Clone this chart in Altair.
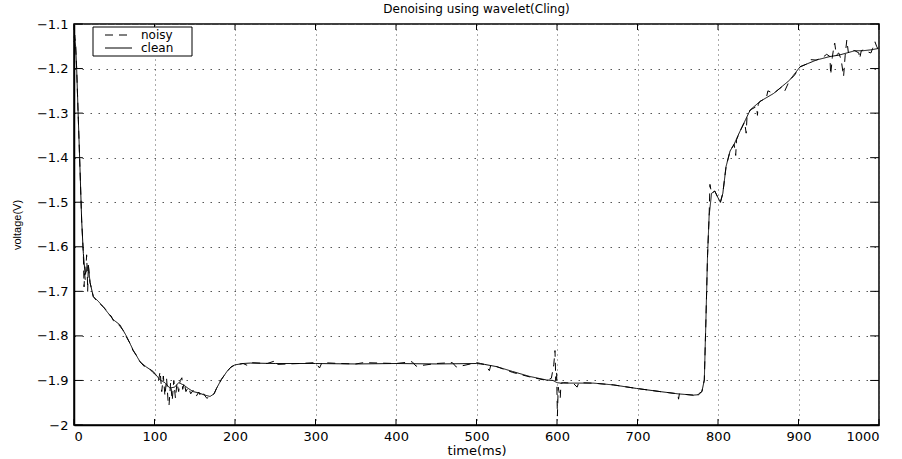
import altair as alt
import pandas as pd

title_text = "Denoising using wavelet(Cling)"
x_title = "time(ms)"
y_title = "voltage(V)"
series_names = ["noisy", "clean"]

x_ticks = [0, 100, 200, 300, 400, 500, 600, 700, 800, 900, 1000]
y_ticks = [-2.0, -1.9, -1.8, -1.7, -1.6, -1.5, -1.4, -1.3, -1.2, -1.1]

clean_t = [0, 1, 2, 3.3, 5.4, 7.5, 9.5, 11.6, 13.7, 15.5, 17.8, 19.9, 24, 30, 36, 42, 49, 57,
           65, 73, 82, 90, 98.5, 107, 113, 119, 125, 130, 136, 142, 148, 155, 161, 169, 174,
           177, 183, 190, 195, 200, 210, 219, 250, 300, 350, 400, 450, 500, 510, 525, 545,
           566, 587, 595, 600, 605, 620, 645, 670, 699, 728, 750, 769, 776, 780, 783, 785,
           787, 789, 792, 796, 800, 803, 806, 810, 815, 820, 827, 840, 852, 869, 889, 902,
           922, 939, 950, 960, 970, 980, 990, 999]
clean_v = [-1.140, -1.135, -1.150, -1.200, -1.315, -1.428, -1.540, -1.615, -1.660, -1.655,
           -1.641, -1.680, -1.712, -1.722, -1.734, -1.748, -1.764, -1.775, -1.800, -1.830,
           -1.858, -1.870, -1.880, -1.899, -1.905, -1.917, -1.915, -1.905, -1.910, -1.918,
           -1.925, -1.928, -1.932, -1.936, -1.930, -1.918, -1.898, -1.880, -1.870, -1.865,
           -1.862, -1.861, -1.862, -1.862, -1.863, -1.862, -1.863, -1.862, -1.864, -1.869,
           -1.880, -1.891, -1.899, -1.900, -1.905, -1.906, -1.906, -1.906, -1.910, -1.918,
           -1.925, -1.930, -1.933, -1.932, -1.925, -1.899, -1.764, -1.620, -1.530, -1.480,
           -1.475, -1.490, -1.500, -1.480, -1.420, -1.385, -1.370, -1.342, -1.293, -1.274,
           -1.256, -1.226, -1.196, -1.181, -1.173, -1.170, -1.165, -1.160, -1.160, -1.158,
           -1.155]

noisy_t = [0, 1, 2, 3.3, 5.4, 7.5, 9.5, 11.6, 12.5, 13.2, 14, 15.7, 16.5, 17, 17.8, 19.9,
           24, 30, 36, 40, 42, 46, 49, 53, 57, 62, 65, 70, 73, 78, 82, 88, 93, 98, 102, 105,
           107, 109, 111, 113, 115, 117, 118, 120, 122, 124, 126, 128, 130, 132, 134, 135,
           137, 139, 142, 145, 148, 152, 155, 158, 161, 165, 169, 174, 177, 183, 190, 195,
           200, 210, 215, 219, 240, 250, 252, 280, 300, 305, 308, 330, 350, 360, 400, 420,
           425, 450, 470, 475, 500, 505, 510, 516, 518, 525, 545, 566, 587, 593, 596, 597.5,
           598.5, 599.5, 600.5, 601.5, 604, 605, 608, 620, 625, 627, 645, 670, 699, 728, 750,
           751, 752, 769, 772, 776, 780, 783, 785, 787, 789, 790, 792, 796, 800, 803, 806,
           810, 815, 820, 822, 823, 827, 833, 835, 836, 840, 848, 849, 850, 852, 860, 862,
           869, 880, 883, 889, 895, 902, 910, 915, 922, 930, 935, 939, 940, 942, 944, 945,
           947, 950, 953, 956, 958, 960, 962, 964, 970, 975, 976, 978, 981, 985, 990, 992,
           995, 997, 999]
noisy_v = [-1.130, -1.125, -1.145, -1.200, -1.315, -1.428, -1.540, -1.615, -1.690, -1.660,
           -1.675, -1.618, -1.660, -1.700, -1.640, -1.680, -1.712, -1.725, -1.734, -1.742,
           -1.750, -1.755, -1.766, -1.770, -1.778, -1.790, -1.802, -1.818, -1.832, -1.845,
           -1.858, -1.870, -1.872, -1.882, -1.888, -1.900, -1.880, -1.925, -1.890, -1.935,
           -1.895, -1.950, -1.957, -1.905, -1.945, -1.900, -1.940, -1.905, -1.925, -1.900,
           -1.894, -1.920, -1.905, -1.925, -1.915, -1.930, -1.922, -1.935, -1.926, -1.938,
           -1.930, -1.940, -1.936, -1.930, -1.918, -1.898, -1.880, -1.870, -1.865, -1.862,
           -1.866, -1.860, -1.862, -1.856, -1.864, -1.862, -1.860, -1.872, -1.860, -1.862,
           -1.863, -1.860, -1.862, -1.858, -1.868, -1.862, -1.860, -1.870, -1.860, -1.862,
           -1.864, -1.878, -1.864, -1.869, -1.882, -1.892, -1.900, -1.895, -1.865, -1.833,
           -1.900, -1.880, -1.980, -1.915, -1.940, -1.906, -1.905, -1.906, -1.915, -1.905,
           -1.906, -1.910, -1.918, -1.925, -1.930, -1.942, -1.930, -1.933, -1.938, -1.930,
           -1.925, -1.899, -1.764, -1.620, -1.530, -1.460, -1.480, -1.475, -1.490, -1.500,
           -1.480, -1.420, -1.385, -1.370, -1.395, -1.360, -1.342, -1.320, -1.345, -1.310,
           -1.293, -1.285, -1.305, -1.280, -1.274, -1.266, -1.250, -1.256, -1.240, -1.250,
           -1.226, -1.215, -1.196, -1.190, -1.180, -1.181, -1.175, -1.168, -1.173, -1.214,
           -1.175, -1.150, -1.143, -1.170, -1.165, -1.180, -1.218, -1.170, -1.136, -1.165,
           -1.158, -1.160, -1.165, -1.178, -1.160, -1.158, -1.162, -1.165, -1.155, -1.140,
           -1.150, -1.157]

dash_patterns = [[8, 6], [1, 0]]

df = pd.concat([
    pd.DataFrame({"t": noisy_t, "v": noisy_v, "series": series_names[0]}),
    pd.DataFrame({"t": clean_t, "v": clean_v, "series": series_names[1]}),
], ignore_index=True)
xt = pd.DataFrame({"t": x_ticks})
yt = pd.DataFrame({"v": y_ticks})

x_scale = alt.Scale(domain=[0, 1000], nice=False, zero=False)
y_scale = alt.Scale(domain=[-2.0, -1.1], nice=False, zero=False)

hfont = "DejaVu Sans"

lines = alt.Chart(df).mark_line(color="black", strokeWidth=1).encode(
    x=alt.X("t:Q", scale=x_scale,
            axis=alt.Axis(values=x_ticks, title=x_title, format="d", grid=True, ticks=False,
                          tickSize=0, labelPadding=5, titlePadding=1, gridDash=[1, 4],
                          labelFont=hfont, labelFontSize=13, titleFont=hfont, titleFontSize=13)),
    y=alt.Y("v:Q", scale=y_scale,
            axis=alt.Axis(values=y_ticks, title=y_title, format=".2~f", grid=True, ticks=False,
                          tickSize=0, labelPadding=6, titlePadding=14, gridDash=[1.5, 6.5],
                          labelFont=hfont, labelFontSize=13, titleFont="Liberation Sans",
                          titleFontSize=11)),
    strokeDash=alt.StrokeDash("series:N",
                              scale=alt.Scale(domain=series_names, range=dash_patterns),
                              legend=None),
)

tick_x_bottom = alt.Chart(xt).mark_rule(color="black", strokeWidth=1).encode(
    x=alt.X("t:Q", scale=x_scale), y=alt.datum(-2.0), y2=alt.datum(-1.9865))
tick_x_top = alt.Chart(xt).mark_rule(color="black", strokeWidth=1).encode(
    x=alt.X("t:Q", scale=x_scale), y=alt.datum(-1.1), y2=alt.datum(-1.1135))
tick_y_left = alt.Chart(yt).mark_rule(color="black", strokeWidth=1).encode(
    y=alt.Y("v:Q", scale=y_scale), x=alt.datum(0), x2=alt.datum(11))
tick_y_right = alt.Chart(yt).mark_rule(color="black", strokeWidth=1).encode(
    y=alt.Y("v:Q", scale=y_scale), x=alt.datum(1000), x2=alt.datum(989))

# legend box (MATLAB-style) drawn as decoration
one = pd.DataFrame({"k": [0]})
leg_box = alt.Chart(one).mark_rect(fill="white", stroke="black", strokeWidth=1).encode(
    x=alt.value(19), x2=alt.value(118), y=alt.value(3), y2=alt.value(32))
leg_layers = [leg_box]
for i, name in enumerate(series_names):
    row_y = 11 + 13 * i
    sdf = pd.DataFrame({"series": [name]})
    leg_layers.append(
        alt.Chart(sdf).mark_rule(color="black", strokeWidth=1, strokeDash=dash_patterns[i]).encode(
            x=alt.value(31), x2=alt.value(58), y=alt.value(row_y)))
    leg_layers.append(
        alt.Chart(sdf).mark_text(align="left", baseline="middle", font=hfont, fontSize=12,
                                 color="black").encode(
            x=alt.value(67), y=alt.value(row_y), text="series:N"))

chart = alt.layer(lines, tick_x_bottom, tick_x_top, tick_y_left, tick_y_right,
                  *leg_layers).properties(
    width=805, height=401,
    padding={"left": 74, "top": 24, "right": 23, "bottom": 34},
    autosize=alt.AutoSizeParams(type="none"),
    title=alt.TitleParams(title_text, font=hfont, fontSize=12, fontWeight="normal",
                          anchor="middle", offset=2, color="black"),
    background="white",
).configure_view(stroke="black", strokeWidth=1.5).configure_axis(
    domainColor="black", domainWidth=1.5, labelColor="black", titleColor="black",
    gridColor="#555555", gridOpacity=1, gridWidth=1, titleFontWeight="normal",
)

chart.save("out.html", embed_options={"renderer": "svg", "actions": False})
